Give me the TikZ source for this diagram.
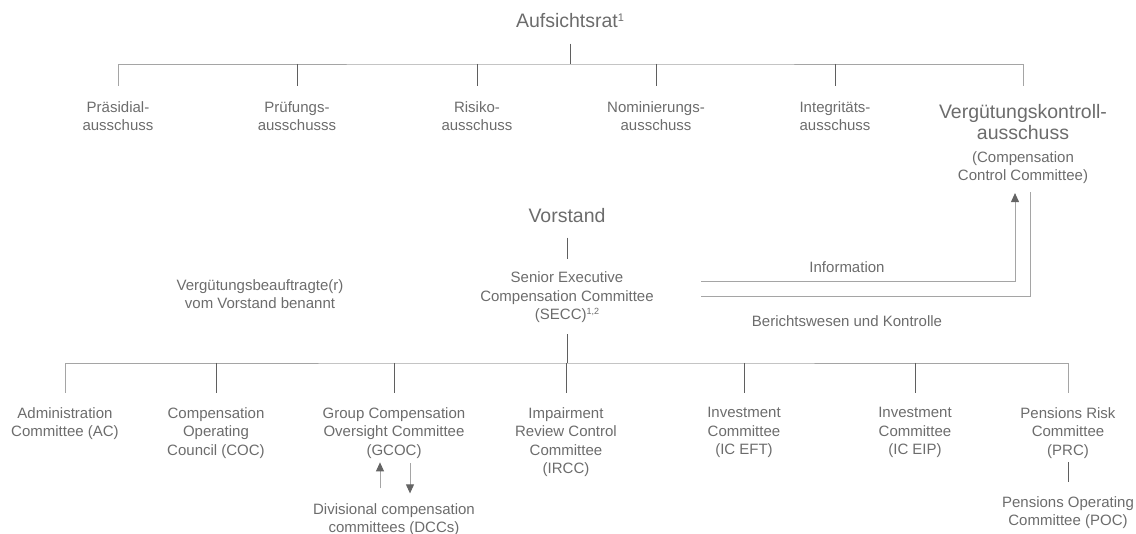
\documentclass[tikz,border=0pt]{standalone}
\usepackage{fontspec}
\setmainfont{Liberation Sans}
\usepackage{tikz}
\usetikzlibrary{positioning,arrows.meta}

\definecolor{txtgray}{RGB}{108,108,108}
\definecolor{busgray}{RGB}{165,165,165}
\definecolor{dropgray}{RGB}{95,95,95}
\definecolor{tipgray}{RGB}{100,100,100}

\newcommand{\smalltxt}{\fontsize{15}{18.5}\selectfont}
\newcommand{\bigtxt}{\fontsize{19.5}{21.5}\selectfont}

\begin{document}
\begin{tikzpicture}[x=1pt, y=-1pt,
    every node/.style = {anchor=north, align=center, inner sep=0pt, text=txtgray, font=\smalltxt},
    big/.style = {font=\bigtxt},
    bus/.style = {draw=busgray, line width=0.9pt},
    link/.style = {draw=dropgray, line width=0.9pt},
    arr/.style = {draw=busgray, line width=0.9pt, -{Triangle[width=8pt,length=9pt,color=tipgray]}}]
    \useasboundingbox (0,0) rectangle (1136,534);

    % Aufsichtsrat
    \node[big](aufs) at (570,13) {Aufsichtsrat\raisebox{6pt}{\fontsize{11}{11}\selectfont 1}};
    \node(prae) at (118,101) {Präsidial-\\ausschuss};
    \node(pruef) at (297,101) {Prüfungs-\\ausschusss};
    \node(risiko) at (477,101) {Risiko-\\ausschuss};
    \node(nomin) at (656,101) {Nominierungs-\\ausschuss};
    \node(integ) at (835,101) {Integritäts-\\ausschuss};
    \node[big](vka) at (1023,104) {Vergütungskontroll-\\ausschuss};
    \node(vkasub)[below = 11pt of vka] {(Compensation\\Control Committee)};

    \coordinate (topbus) at (570,64);
    \draw[link, shorten <=16pt] (aufs.south) -- (aufs.south |- topbus);
    \draw[bus, shorten <=15pt, shorten >=18pt] (prae.north) |- (topbus) -| (vka.north);
    \foreach \n in {pruef,risiko,nomin,integ}
        \draw[link, shorten >=15pt] (\n.north |- topbus) -- (\n.north);

    % Vorstand
    \node[big](vorstand) at (567,208) {Vorstand};
    \node(secc)[below = 49pt of vorstand] {Senior Executive\\Compensation Committee\\(SECC)\raisebox{5pt}{\fontsize{9}{9}\selectfont 1,2}};
    \node(beauf) at (260,279) {Vergütungsbeauftragte(r)\\vom Vorstand benannt};
    \draw[link, shorten <=15pt, shorten >=13pt] (vorstand.south) -- (secc.north);

    \coordinate (infostart) at (701,281);
    \coordinate (berstart) at (701,296);
    \draw[arr, shorten >=9pt] (infostart) -| ([xshift=-8pt]vkasub.south);
    \draw[bus, shorten >=8pt] (berstart) -| ([xshift=7pt]vkasub.south);
    \node(info) at (847,261) {Information};
    \node(bericht) at (847,315) {Berichtswesen und Kontrolle};

    % Komitees
    \node(ac) at (65,407) {Administration\\Committee (AC)};
    \node(coc) at (216,407) {Compensation\\Operating\\Council (COC)};
    \node(gcoc) at (394,407) {Group Compensation\\Oversight Committee\\(GCOC)};
    \node(ircc) at (566,407) {Impairment\\Review Control\\Committee\\(IRCC)};
    \node(icEFT) at (744,407) {Investment\\Committee\\(IC EFT)};
    \node(icEIP) at (915,407) {Investment\\Committee\\(IC EIP)};
    \node(prc) at (1068,407) {Pensions Risk\\Committee\\(PRC)};
    \node(poc)[below = 38pt of prc] {Pensions Operating\\Committee (POC)};
    \node(dcc)[below = 45pt of gcoc] {Divisional compensation\\committees (DCCs)};

    \coordinate (botbus) at (566,363);
    \draw[link, shorten <=11pt] (secc.south) -- (secc.south |- botbus);
    \draw[bus, shorten <=14pt, shorten >=14pt] (ac.north) |- (botbus) -| (prc.north);
    \foreach \n in {coc,gcoc,ircc,icEFT,icEIP}
        \draw[link, shorten >=14pt] (\n.north |- botbus) -- (\n.north);

    \draw[arr, shorten <=15pt, shorten >=4pt] ([xshift=-14pt]dcc.north) -- ([xshift=-14pt]gcoc.south);
    \draw[arr, shorten <=5pt, shorten >=10pt] ([xshift=16pt]gcoc.south) -- ([xshift=16pt]dcc.north);
    \draw[link, shorten <=4pt, shorten >=14pt] (prc.south) -- (poc.north);
\end{tikzpicture}
\end{document}
